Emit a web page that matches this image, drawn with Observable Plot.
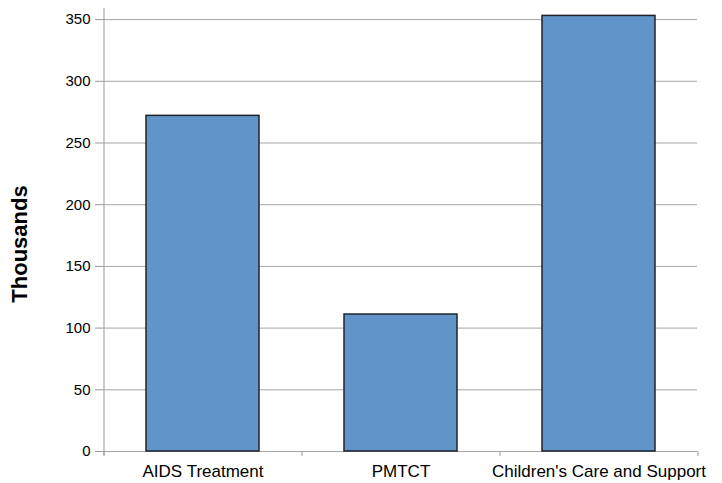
<!DOCTYPE html>
<html>
<head>
<meta charset="utf-8">
<script src="https://cdn.jsdelivr.net/npm/d3@7"></script>
<script src="https://cdn.jsdelivr.net/npm/@observablehq/plot@0.6"></script>
<style>
  html, body { margin: 0; padding: 0; background: white; }
</style>
</head>
<body>
<div id="chart"></div>
<script>
const categories = ["AIDS Treatment", "PMTCT", "Children's Care and Support"];
const values = [272, 111, 353];
const yTicks = [0, 50, 100, 150, 200, 250, 300, 350];
const yLabel = "Thousands";

const data = categories.map((c, i) => ({category: c, value: values[i]}));
const step = (722 - 103 - 25) / categories.length;

const chart = Plot.plot({
  width: 722,
  height: 483,
  marginLeft: 103,
  marginRight: 25,
  marginTop: 8,
  marginBottom: 32,
  style: {fontFamily: "'Liberation Sans', Arial, sans-serif", background: "white", color: "black"},
  x: {domain: categories, paddingInner: 0.43, paddingOuter: 0.215, label: null},
  y: {domain: [0, 359], label: null},
  marks: [
    Plot.gridY(yTicks, {stroke: "#a6a6a6", strokeOpacity: 1, strokeWidth: 1}),
    Plot.barY(data, {x: "category", y: "value", fill: "#6195c9", stroke: "#1f2328", strokeWidth: 1.5}),
    Plot.tickX([categories[0]], {x: d => d, dx: -step / 2, stroke: "#999", strokeWidth: 1, insetBottom: -4}),
    Plot.axisY(yTicks, {tickSize: 8, tickPadding: 5, fontSize: 15, stroke: "#999", fill: "black", label: null}),
    Plot.axisX({tickSize: 0, tickPadding: 13, fontSize: 17, fill: "black", label: null}),
    Plot.axisX(categories, {tickSize: 5, text: null, dx: -step / 2, stroke: "#999", label: null}),
    Plot.axisX([categories[categories.length - 1]], {tickSize: 5, text: null, dx: step / 2, stroke: "#999", label: null}),
    Plot.text([yLabel], {text: d => d, frameAnchor: "left", textAnchor: "middle", rotate: -90, dx: -84, dy: 14, fontSize: 22, fontWeight: "bold", fill: "black"})
  ]
});
document.getElementById("chart").appendChild(chart);
</script>
</body>
</html>
